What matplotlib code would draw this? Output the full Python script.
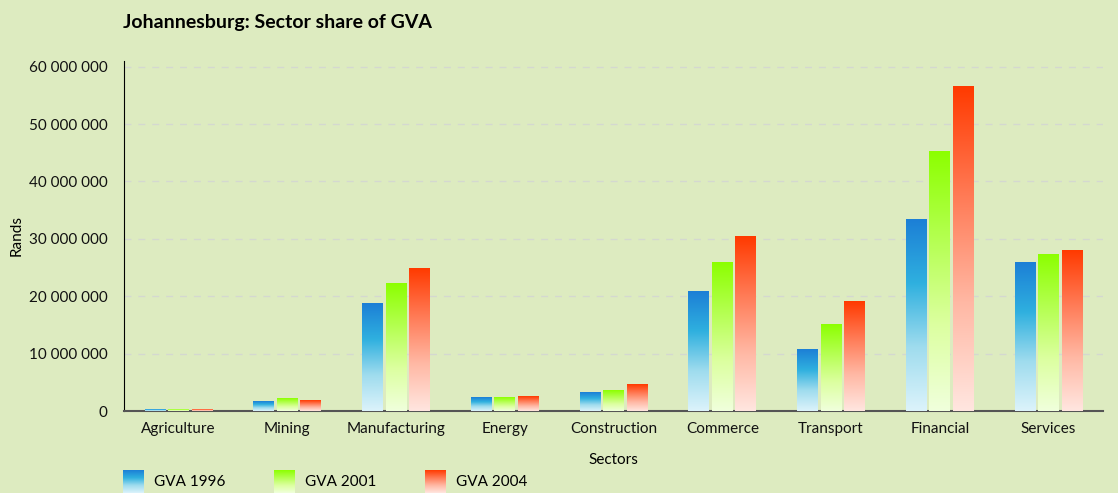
import matplotlib.pyplot as plt
import numpy as np
from matplotlib.colors import LinearSegmentedColormap
from matplotlib.ticker import FuncFormatter

sectors = ["Agriculture", "Mining", "Manufacturing", "Energy", "Construction",
           "Commerce", "Transport", "Financial", "Services"]
series = ["GVA 1996", "GVA 2001", "GVA 2004"]
gva_1996 = [0.3, 1.7, 18.7, 2.4, 3.3, 20.9, 10.8, 33.3, 25.9]
gva_2001 = [0.3, 2.1, 22.3, 2.4, 3.5, 25.9, 15.1, 45.2, 27.2]
gva_2004 = [0.3, 1.9, 24.9, 2.6, 4.6, 30.4, 19.0, 56.5, 28.0]
values = [gva_1996, gva_2001, gva_2004]

# top -> bottom gradient colours
grads = [
    ["#1c7fd6", "#2fb0df", "#9fdcee", "#dcf3fb"],
    ["#8cff00", "#b4ff50", "#dcffa0", "#f0ffdc"],
    ["#ff3a00", "#ff7a55", "#ffb8a4", "#ffe6e0"],
]
cmaps = [LinearSegmentedColormap.from_list(f"g{i}", g) for i, g in enumerate(grads)]
grad_img = np.linspace(0, 1, 256).reshape(-1, 1)

bg = "#ddebc0"
plt.rcParams['font.family'] = ['Lato', 'DejaVu Sans']

fig = plt.figure(figsize=(11.18, 4.93), dpi=100, facecolor=bg)
ax = fig.add_axes([0.111, 0.1663, 0.8755, 0.71])
ax.set_facecolor(bg)

x = np.arange(len(sectors))
width = 0.19
step = 0.216
ymax = 61e6

for k, vals in enumerate(values):
    for i, v in enumerate(vals):
        xc = x[i] + (k - 1) * step
        ax.imshow(grad_img, cmap=cmaps[k], aspect='auto', interpolation='bilinear',
                  extent=[xc - width / 2, xc + width / 2, 0, v * 1e6], zorder=3)

ax.set_xlim(-0.5, len(sectors) - 0.5)
ax.set_ylim(0, ymax)
ax.set_yticks(np.arange(0, 60e6 + 1, 10e6))
ax.yaxis.set_major_formatter(FuncFormatter(lambda v, p: f"{int(v):,}".replace(",", " ")))
ax.set_xticks(x)
ax.set_xticklabels(sectors)
ax.tick_params(length=0, labelsize=11, pad=8, labelcolor='#111111')
ax.tick_params(axis='y', pad=12)
ax.grid(axis='y', color='#d4d8d0', linestyle=(0, (5, 5)), linewidth=1, zorder=0)
ax.set_axisbelow(True)
for s in ['top', 'right']:
    ax.spines[s].set_visible(False)
ax.spines['left'].set_color('black')
ax.spines['bottom'].set_color('#555555')
ax.spines['bottom'].set_linewidth(1.5)

ax.set_ylabel("Rands", fontsize=11, labelpad=4)
ax.set_xlabel("Sectors", fontsize=11, labelpad=12)
fig.text(0.110, 0.955, "Johannesburg: Sector share of GVA", fontsize=14,
         fontweight='bold', ha='left', va='center')

# legend with gradient swatches
for k, name in enumerate(series):
    x0 = (123 + 151 * k) / 1118
    sw = fig.add_axes([x0, 0.0, 21 / 1118, 23 / 493])
    sw.imshow(grad_img, cmap=cmaps[k], aspect='auto', interpolation='bilinear')
    sw.axis('off')
    fig.text(x0 + 31 / 1118, 11 / 493, name, fontsize=11, ha='left', va='center')

fig.savefig("out.png", dpi=100, facecolor=bg)
